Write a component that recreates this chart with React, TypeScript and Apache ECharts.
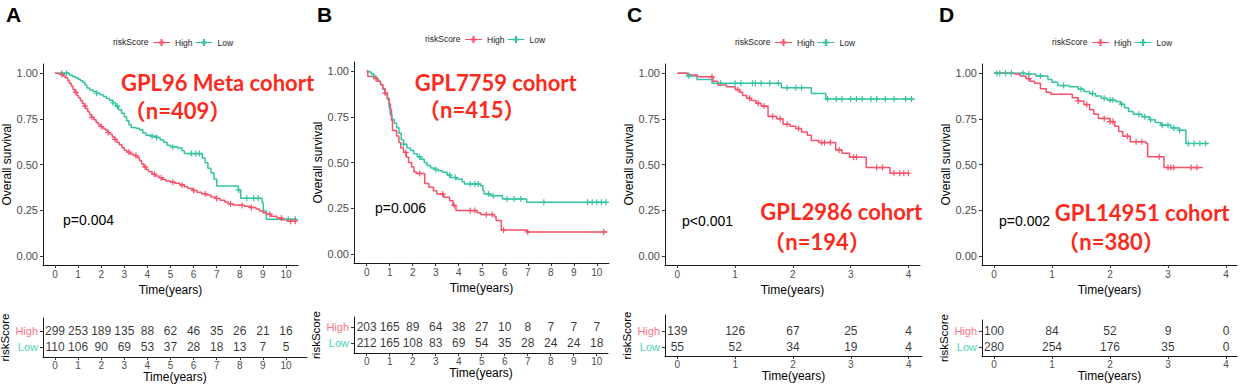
import React, { useEffect, useRef } from 'react';
import * as echarts from 'echarts';

type Pt = [number, number];

const RED = '#F8506A';
const TEAL = '#34C3A2';
const RED_LBL = '#FF7488';
const TEAL_LBL = '#4FD3B4';
const FONT = 'Liberation Sans, Arial, sans-serif';
const TITLE_FONT = 'Lato, "Noto Sans CJK SC", sans-serif';

// ---------- Panel A : GPL96 Meta cohort ----------
const aTicks = [0, 1, 2, 3, 4, 5, 6, 7, 8, 9, 10];
const aHighCurve: Pt[] = [
  [0, 1.0], [0.1, 0.997], [0.25, 0.993], [0.35, 0.985], [0.45, 0.975], [0.55, 0.96], [0.62, 0.945],
  [0.7, 0.93], [0.78, 0.91], [0.86, 0.895], [0.95, 0.878], [1.02, 0.865], [1.1, 0.85], [1.18, 0.835],
  [1.26, 0.82], [1.33, 0.805], [1.42, 0.788], [1.5, 0.772], [1.58, 0.758], [1.68, 0.745], [1.78, 0.73],
  [1.88, 0.718], [1.98, 0.708], [2.08, 0.697], [2.18, 0.687], [2.28, 0.675], [2.38, 0.665], [2.48, 0.65],
  [2.58, 0.637], [2.68, 0.622], [2.78, 0.608], [2.9, 0.592], [3.0, 0.578], [3.1, 0.568], [3.25, 0.558],
  [3.4, 0.549], [3.55, 0.538], [3.65, 0.522], [3.75, 0.503], [3.85, 0.487], [3.95, 0.472], [4.05, 0.46],
  [4.2, 0.447], [4.35, 0.437], [4.5, 0.428], [4.65, 0.418], [4.8, 0.41], [5.0, 0.403], [5.2, 0.397],
  [5.4, 0.388], [5.6, 0.378], [5.75, 0.368], [5.95, 0.358], [6.15, 0.348], [6.35, 0.34], [6.55, 0.333],
  [6.75, 0.322], [6.95, 0.314], [7.15, 0.305], [7.35, 0.295], [7.5, 0.285], [7.7, 0.279], [8.0, 0.276],
  [8.2, 0.271], [8.45, 0.264], [8.7, 0.256], [8.85, 0.245], [9.0, 0.236], [9.15, 0.228], [9.35, 0.217],
  [9.6, 0.207], [9.85, 0.198], [10.05, 0.19], [10.45, 0.19],
];
const aLowCurve: Pt[] = [
  [0, 1.0], [0.62, 0.99], [0.75, 0.982], [0.88, 0.975], [1.0, 0.966], [1.1, 0.958], [1.2, 0.95],
  [1.3, 0.935], [1.38, 0.918], [1.5, 0.908], [1.65, 0.9], [1.8, 0.89], [1.95, 0.882], [2.1, 0.872],
  [2.22, 0.862], [2.35, 0.852], [2.5, 0.838], [2.62, 0.82], [2.75, 0.8], [2.88, 0.78], [3.0, 0.762],
  [3.1, 0.74], [3.2, 0.718], [3.3, 0.703], [3.5, 0.698], [3.65, 0.69], [3.8, 0.672], [3.95, 0.66],
  [4.15, 0.655], [4.4, 0.648], [4.55, 0.635], [4.7, 0.622], [4.85, 0.605], [5.0, 0.597], [5.3, 0.59],
  [5.5, 0.575], [5.6, 0.56], [6.38, 0.535], [6.5, 0.51], [6.62, 0.48], [6.75, 0.455], [6.88, 0.42],
  [7.0, 0.383], [7.93, 0.36], [8.04, 0.315], [8.97, 0.29], [9.02, 0.245], [9.15, 0.2], [10.45, 0.2],
];
const aHighCensor = [0.3, 0.9, 1.3, 1.6, 2.0, 2.3, 2.6, 3.2, 3.5, 3.9, 4.3, 4.6, 5.1, 5.5, 6.0, 6.5, 7.0, 7.6, 8.1, 8.5, 9.3, 9.8, 10.2, 10.4];
const aLowCensor = [0.3, 0.5, 1.8, 2.5, 2.7, 4.2, 4.4, 5.1, 5.9, 6.1, 6.25, 7.95, 8.3, 8.6, 8.8, 10.1, 10.4];
const aHighRisk = [299, 253, 189, 135, 88, 62, 46, 35, 26, 21, 16];
const aLowRisk = [110, 106, 90, 69, 53, 37, 28, 18, 13, 7, 5];

// ---------- Panel B : GPL7759 cohort ----------
const bTicks = [0, 1, 2, 3, 4, 5, 6, 7, 8, 9, 10];
const bHighCurve: Pt[] = [
  [0, 1.0], [0.05, 0.97], [0.3, 0.96], [0.45, 0.945], [0.6, 0.925], [0.7, 0.905], [0.8, 0.88],
  [0.9, 0.85], [0.98, 0.82], [1.03, 0.79], [1.08, 0.73], [1.12, 0.675], [1.3, 0.645], [1.4, 0.61],
  [1.48, 0.58], [1.6, 0.555], [1.72, 0.53], [1.82, 0.5], [1.95, 0.475], [2.05, 0.45], [2.15, 0.44],
  [2.52, 0.385], [2.7, 0.365], [2.9, 0.345], [3.05, 0.328], [3.35, 0.31], [3.6, 0.29], [3.75, 0.265],
  [3.88, 0.237], [4.8, 0.225], [4.95, 0.215], [5.55, 0.205], [5.62, 0.182], [5.85, 0.13], [6.95, 0.12],
  [10.45, 0.12],
];
const bLowCurve: Pt[] = [
  [0, 1.0], [0.1, 0.995], [0.2, 0.985], [0.3, 0.972], [0.4, 0.96], [0.5, 0.945], [0.6, 0.925],
  [0.7, 0.9], [0.8, 0.875], [0.9, 0.845], [0.97, 0.8], [1.02, 0.76], [1.1, 0.735], [1.2, 0.715],
  [1.3, 0.69], [1.4, 0.66], [1.5, 0.625], [1.6, 0.6], [1.75, 0.58], [1.9, 0.565], [2.05, 0.548],
  [2.2, 0.532], [2.35, 0.518], [2.5, 0.5], [2.62, 0.483], [2.78, 0.47], [2.95, 0.462], [3.1, 0.455],
  [3.3, 0.447], [3.5, 0.432], [3.65, 0.418], [3.9, 0.41], [4.15, 0.395], [4.25, 0.383], [4.95, 0.373],
  [5.05, 0.345], [5.1, 0.328], [5.4, 0.318], [5.9, 0.3], [6.95, 0.282], [10.45, 0.282],
];
const bHighCensor = [0.4, 0.8, 1.7, 2.3, 3.3, 3.8, 4.5, 4.7, 5.2, 5.45, 5.95, 7.0, 10.3];
const bLowCensor = [0.3, 1.6, 2.3, 3.0, 3.6, 3.85, 4.5, 4.7, 4.85, 5.3, 5.5, 6.1, 6.4, 6.7, 7.7, 9.6, 9.8, 10.0, 10.2, 10.4];
const bHighRisk = [203, 165, 89, 64, 38, 27, 10, 8, 7, 7, 7];
const bLowRisk = [212, 165, 108, 83, 69, 54, 35, 28, 24, 24, 18];

// ---------- Panel C : GPL2986 cohort ----------
const cTicks = [0, 1, 2, 3, 4];
const cHighCurve: Pt[] = [
  [0, 1.0], [0.2, 0.99], [0.35, 0.98], [0.62, 0.955], [0.7, 0.935], [0.85, 0.925], [1.0, 0.91],
  [1.08, 0.895], [1.13, 0.878], [1.2, 0.862], [1.28, 0.85], [1.36, 0.835], [1.45, 0.82], [1.57, 0.763],
  [1.72, 0.75], [1.83, 0.72], [1.95, 0.71], [2.05, 0.697], [2.15, 0.678], [2.25, 0.66], [2.32, 0.632],
  [2.45, 0.62], [2.74, 0.58], [2.85, 0.562], [2.98, 0.54], [3.27, 0.483], [3.68, 0.452], [4.0, 0.452],
];
const cLowCurve: Pt[] = [
  [0, 1.0], [0.17, 0.985], [0.34, 0.965], [0.6, 0.944], [1.8, 0.92], [2.32, 0.889], [2.57, 0.858], [4.11, 0.858],
];
const cHighCensor = [0.6, 1.05, 1.25, 1.4, 1.5, 1.65, 1.78, 1.9, 2.1, 2.5, 2.55, 2.65, 2.8, 3.05, 3.1, 3.45, 3.55, 3.75, 3.85, 3.92, 4.0];
const cLowCensor = [0.2, 0.75, 1.0, 1.1, 1.3, 1.35, 1.45, 1.6, 1.75, 1.9, 2.05, 2.15, 2.6, 2.75, 2.85, 3.0, 3.1, 3.2, 3.35, 3.45, 3.6, 3.75, 3.95, 4.05];
const cHighRisk = [139, 126, 67, 25, 4];
const cLowRisk = [55, 52, 34, 19, 4];

// ---------- Panel D : GPL14951 cohort ----------
const dTicks = [0, 1, 2, 3, 4];
const dHighCurve: Pt[] = [
  [0, 1.0], [0.35, 0.995], [0.45, 0.985], [0.55, 0.97], [0.62, 0.955], [0.7, 0.944], [0.8, 0.915],
  [0.9, 0.895], [0.98, 0.884], [1.35, 0.865], [1.45, 0.848], [1.55, 0.828], [1.65, 0.8], [1.72, 0.775],
  [1.8, 0.752], [2.0, 0.735], [2.08, 0.71], [2.15, 0.68], [2.22, 0.655], [2.35, 0.625], [2.62, 0.615],
  [2.65, 0.543], [2.93, 0.483], [3.6, 0.483],
];
const dLowCurve: Pt[] = [
  [0, 1.0], [0.55, 0.995], [0.72, 0.985], [0.93, 0.965], [1.0, 0.95], [1.1, 0.932], [1.3, 0.925],
  [1.45, 0.912], [1.55, 0.9], [1.65, 0.888], [1.75, 0.875], [1.85, 0.862], [1.95, 0.853], [2.1, 0.845],
  [2.18, 0.83], [2.25, 0.81], [2.32, 0.79], [2.4, 0.775], [2.55, 0.762], [2.68, 0.745], [2.78, 0.73],
  [2.88, 0.715], [3.05, 0.7], [3.2, 0.688], [3.31, 0.615], [3.7, 0.615],
];
const dHighCensor = [0.6, 1.45, 1.6, 1.9, 2.0, 2.05, 2.3, 2.45, 2.55, 2.85, 3.0, 3.05, 3.1, 3.4, 3.5];
const dLowCensor = [0.05, 0.1, 0.2, 0.3, 0.5, 0.6, 0.8, 1.2, 1.5, 1.7, 1.9, 2.0, 2.05, 2.2, 2.5, 2.6, 2.7, 2.9, 3.0, 3.1, 3.2, 3.35, 3.45, 3.55, 3.65];
const dHighRisk = [100, 84, 52, 9, 0];
const dLowRisk = [280, 254, 176, 35, 0];

const yTicks = [0, 0.25, 0.5, 0.75, 1];

const panels = [
  {
    letter: 'A', letterX: 6, ticks: aTicks, high: aHighCurve, low: aLowCurve, highC: aHighCensor, lowC: aLowCensor,
    highN: aHighRisk, lowN: aLowRisk,
    km: { left: 43, top: 64, width: 255, height: 201, xmin: -0.52, xmax: 10.52 },
    tb: { left: 43, top: 318, width: 264, height: 39, xmin: -0.52, xmax: 10.91, ymin: 0.375, ymax: 2.81 },
    legendX: 113, legendY: 42, pval: 'p=0.004', pX: 63, pY: 220,
    t1: 'GPL96 Meta cohort', t1x: 217.5, t1y: 82, t2: '（n=409）', t2x: 177.5, t2y: 110,
  },
  {
    letter: 'B', letterX: 317, ticks: bTicks, high: bHighCurve, low: bLowCurve, highC: bHighCensor, lowC: bLowCensor,
    highN: bHighRisk, lowN: bLowRisk,
    km: { left: 354, top: 62, width: 255, height: 201, xmin: -0.552, xmax: 10.53 },
    tb: { left: 354, top: 317, width: 254, height: 36, xmin: -0.552, xmax: 10.49, ymin: 0.375, ymax: 2.625 },
    legendX: 425, legendY: 39, pval: 'p=0.006', pX: 375, pY: 208,
    t1: 'GPL7759 cohort', t1x: 495.8, t1y: 82, t2: '（n=415）', t2x: 471.7, t2y: 109,
  },
  {
    letter: 'C', letterX: 627, ticks: cTicks, high: cHighCurve, low: cLowCurve, highC: cHighCensor, lowC: cLowCensor,
    highN: cHighRisk, lowN: cLowRisk,
    km: { left: 665, top: 64, width: 255, height: 201, xmin: -0.213, xmax: 4.2 },
    tb: { left: 665, top: 315, width: 257, height: 41, xmin: -0.213, xmax: 4.23, ymin: 0.4375, ymax: 3.0 },
    legendX: 735, legendY: 42, pval: 'p<0.001', pX: 682, pY: 221,
    t1: 'GPL2986 cohort', t1x: 841.3, t1y: 211, t2: '（n=194）', t2x: 817, t2y: 241,
  },
  {
    letter: 'D', letterX: 939, ticks: dTicks, high: dHighCurve, low: dLowCurve, highC: dHighCensor, lowC: dLowCensor,
    highN: dHighRisk, lowN: dLowRisk,
    km: { left: 982, top: 64, width: 255, height: 201, xmin: -0.207, xmax: 4.19 },
    tb: { left: 982, top: 320, width: 255, height: 36, xmin: -0.207, xmax: 4.19, ymin: 0.4375, ymax: 2.6875 },
    legendX: 1052, legendY: 42, pval: 'p=0.002', pX: 999, pY: 221,
    t1: 'GPL14951 cohort', t1x: 1142.2, t1y: 212, t2: '（n=380）', t2x: 1111, t2y: 241,
  },
];

const PLUS = 'path://M3.2,0h1.6v3.2h3.2v1.6h-3.2v3.2h-1.6v-3.2h-3.2v-1.6h3.2z';
const LEGEND_ICON = 'path://M0,3.5h17v1h-17z M7.5,0.5h2v7h-2z M5.5,3h6v2h-6z';

function survAt(curve: Pt[], t: number): number {
  let s = curve[0][1];
  for (const [tt, ss] of curve) {
    if (tt <= t) s = ss;
    else break;
  }
  return s;
}

function buildOption() {
  const grid: any[] = [];
  const xAxis: any[] = [];
  const yAxis: any[] = [];
  const series: any[] = [];
  const legend: any[] = [];
  const graphic: any[] = [];

  const axisLine = { show: true, onZero: false, lineStyle: { color: '#1a1a1a', width: 1 } };
  const tickStyle = { color: '#333', width: 1 };

  panels.forEach((p, i) => {
    const kmIdx = i * 2;
    const tbIdx = i * 2 + 1;
    grid.push({ left: p.km.left, top: p.km.top, width: p.km.width, height: p.km.height, outerBoundsMode: 'none', containLabel: false });
    grid.push({ left: p.tb.left, top: p.tb.top, width: p.tb.width, height: p.tb.height, outerBoundsMode: 'none', containLabel: false });

    xAxis.push({
      gridIndex: kmIdx, type: 'value', min: p.km.xmin, max: p.km.xmax,
      axisLine, splitLine: { show: false },
      axisTick: { show: true, customValues: p.ticks, length: 3, lineStyle: tickStyle },
      axisLabel: { customValues: p.ticks, fontSize: 10, color: '#4d4d4d', margin: 4, fontFamily: FONT },
      name: 'Time(years)', nameLocation: 'middle', nameGap: 16,
      nameTextStyle: { fontSize: 12, color: '#000', fontFamily: FONT },
    });
    yAxis.push({
      gridIndex: kmIdx, type: 'value', min: -0.05, max: 1.05,
      axisLine, splitLine: { show: false },
      axisTick: { show: true, customValues: yTicks, length: 3, lineStyle: tickStyle },
      axisLabel: { customValues: yTicks, fontSize: 11, color: '#4d4d4d', margin: 5, fontFamily: FONT, formatter: (v: number) => v.toFixed(2) },
      name: 'Overall survival', nameLocation: 'middle', nameGap: 25,
      nameTextStyle: { fontSize: 12, color: '#000', fontFamily: FONT },
    });
    xAxis.push({
      gridIndex: tbIdx, type: 'value', min: p.tb.xmin, max: p.tb.xmax,
      axisLine, splitLine: { show: false },
      axisTick: { show: true, customValues: p.ticks, length: 3, lineStyle: tickStyle },
      axisLabel: { customValues: p.ticks, fontSize: 10, color: '#4d4d4d', margin: 3, fontFamily: FONT },
      name: 'Time(years)', nameLocation: 'middle', nameGap: 14,
      nameTextStyle: { fontSize: 12, color: '#000', fontFamily: FONT },
    });
    yAxis.push({
      gridIndex: tbIdx, type: 'value', min: p.tb.ymin, max: p.tb.ymax,
      axisLine, splitLine: { show: false },
      axisTick: { show: true, customValues: [1, 2], length: 3, lineStyle: tickStyle },
      axisLabel: {
        customValues: [1, 2], margin: 5, fontFamily: FONT,
        formatter: (v: number) => (v === 2 ? '{h|High}' : v === 1 ? '{l|Low}' : ''),
        rich: {
          h: { color: RED_LBL, fontSize: 11, fontFamily: FONT },
          l: { color: TEAL_LBL, fontSize: 11, fontFamily: FONT },
        },
      },
      name: 'riskScore', nameLocation: 'middle', nameGap: 20,
      nameTextStyle: { fontSize: 11.5, color: '#000', fontFamily: FONT },
    });

    const groups = [
      { name: 'Low', color: TEAL, curve: p.low, cens: p.lowC, risk: p.lowN, row: 1 },
      { name: 'High', color: RED, curve: p.high, cens: p.highC, risk: p.highN, row: 2 },
    ];
    groups.forEach((g) => {
      series.push({
        type: 'line', name: g.name, xAxisIndex: kmIdx, yAxisIndex: kmIdx, step: 'end',
        data: g.curve, symbol: 'none', showSymbol: false, color: g.color,
        itemStyle: { color: g.color }, lineStyle: { color: g.color, width: 1.5 }, silent: true, z: 3,
      });
      series.push({
        type: 'scatter', name: g.name + ' censored', xAxisIndex: kmIdx, yAxisIndex: kmIdx,
        data: g.cens.map((t) => [t, survAt(g.curve, t)]), symbol: PLUS, symbolSize: 6,
        itemStyle: { color: g.color, opacity: 1 }, silent: true, z: 4,
      });
      series.push({
        type: 'scatter', name: g.name + ' at risk', xAxisIndex: tbIdx, yAxisIndex: tbIdx,
        data: p.ticks.map((t, j) => [t, g.row, g.risk[j]]), symbol: 'circle', symbolSize: 1,
        itemStyle: { color: 'rgba(0,0,0,0)' }, silent: true,
        label: {
          show: true, position: 'inside', formatter: (pp: any) => String(pp.value[2]),
          color: '#000', fontSize: 12, fontFamily: FONT,
        },
      });
    });

    legend.push({
      left: p.legendX + 40, top: p.legendY - 4, itemWidth: 17, itemHeight: 8, itemGap: 3,
      icon: LEGEND_ICON, selectedMode: false, data: ['High', 'Low'], padding: 0,
      textStyle: { fontSize: 8.5, color: '#222', fontFamily: FONT },
    });

    graphic.push({
      type: 'text', x: p.letterX, y: 14.5,
      style: { text: p.letter, fontSize: 21, fontWeight: 'bold', fontFamily: FONT, fill: '#000', verticalAlign: 'middle', textVerticalAlign: 'middle' },
    });
    graphic.push({
      type: 'text', x: p.legendX, y: p.legendY,
      style: { text: 'riskScore', fontSize: 8.5, fontFamily: FONT, fill: '#222', verticalAlign: 'middle', textVerticalAlign: 'middle' },
    });
    graphic.push({
      type: 'text', x: p.pX, y: p.pY, z: 10,
      style: { text: p.pval, fontSize: 14, fontFamily: FONT, fill: '#000', verticalAlign: 'middle', textVerticalAlign: 'middle' },
    });
    graphic.push({
      type: 'text', x: p.t1x, y: p.t1y, z: 10,
      style: { text: p.t1, fontSize: 22, fontWeight: 'bold', fontFamily: TITLE_FONT, fill: '#FA2B1C', align: 'center', textAlign: 'center', verticalAlign: 'middle', textVerticalAlign: 'middle' },
    });
    graphic.push({
      type: 'text', x: p.t2x, y: p.t2y, z: 10,
      style: { text: p.t2, fontSize: 22, fontWeight: 'bold', fontFamily: TITLE_FONT, fill: '#FA2B1C', align: 'center', textAlign: 'center', verticalAlign: 'middle', textVerticalAlign: 'middle' },
    });
  });

  return {
    animation: false,
    backgroundColor: '#ffffff',
    textStyle: { fontFamily: FONT },
    grid, xAxis, yAxis, series, legend, graphic,
  };
}

export default function App() {
  const ref = useRef<HTMLDivElement>(null);
  useEffect(() => {
    if (!ref.current) return;
    const chart = echarts.init(ref.current, undefined, { renderer: 'svg' });
    chart.setOption(buildOption() as any);
    return () => chart.dispose();
  }, []);
  return <div ref={ref} style={{ position: 'fixed', left: 0, top: 0, width: 1246, height: 389, background: '#fff' }} />;
}
